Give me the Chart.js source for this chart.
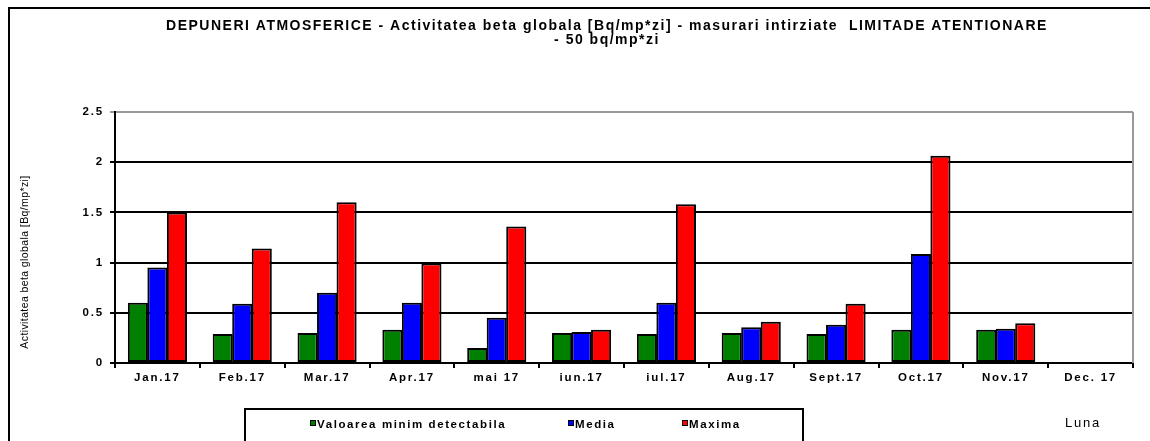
<!DOCTYPE html>
<html>
<head>
<meta charset="utf-8">
<script src="https://cdn.jsdelivr.net/npm/chart.js@4.4.0/dist/chart.umd.min.js"></script>
<style>
  html, body { margin: 0; padding: 0; background: #fff; }
  #wrap { width: 1150px; height: 441px; position: relative; }
</style>
</head>
<body>
<div id="wrap"><canvas id="c" width="1150" height="441"></canvas></div>
<script>
const titleLines = ["DEPUNERI ATMOSFERICE - Activitatea beta globala [Bq/mp*zi] - masurari intirziate  LIMITADE ATENTIONARE", "- 50 bq/mp*zi"];
const yAxisTitle = "Activitatea beta globala [Bq/mp*zi]";
const xAxisTitle = "Luna";
const categories = ["Jan.17", "Feb.17", "Mar.17", "Apr.17", "mai 17", "iun.17", "iul.17", "Aug.17", "Sept.17", "Oct.17", "Nov.17", "Dec. 17"];
const seriesNames = ["Valoarea minim detectabila", "Media", "Maxima"];
const minDetectabil = [0.60, 0.29, 0.30, 0.33, 0.15, 0.30, 0.29, 0.30, 0.29, 0.33, 0.33, null];
const media =         [0.95, 0.59, 0.70, 0.60, 0.45, 0.31, 0.60, 0.355, 0.38, 1.085, 0.34, null];
const maxima =        [1.50, 1.14, 1.60, 0.99, 1.36, 0.33, 1.58, 0.41, 0.59, 2.065, 0.395, null];
const yTicks = [0, 0.5, 1, 1.5, 2, 2.5];
const seriesColors = ["#008000", "#0000ff", "#ff0000"];

const FONT = "'Liberation Sans', Arial, sans-serif";

const spacing = {
  id: 'spacing',
  beforeDraw(chart) { chart.ctx.letterSpacing = '1.8px'; },
  afterDatasetsDraw(chart) { chart.ctx.letterSpacing = '0px'; }
};

const decor = {
  id: 'decor',
  afterDraw(chart) {
    const ctx = chart.ctx;
    const ca = chart.chartArea;
    ctx.save();
    ctx.letterSpacing = '0px';
    // outer frame (top + left)
    ctx.strokeStyle = '#000';
    ctx.lineWidth = 2;
    ctx.beginPath();
    ctx.moveTo(9, 441);
    ctx.lineTo(9, 8);
    ctx.lineTo(1150, 8);
    ctx.stroke();
    // right plot border gray
    ctx.strokeStyle = '#999';
    ctx.lineWidth = 2;
    ctx.beginPath();
    ctx.moveTo(ca.right, ca.top);
    ctx.lineTo(ca.right, ca.bottom);
    ctx.stroke();
    // title
    ctx.fillStyle = '#000';
    ctx.textAlign = 'center';
    ctx.textBaseline = 'middle';
    ctx.font = "bold 14px " + FONT;
    ctx.letterSpacing = '1.5px';
    ctx.fillText(titleLines[0], 607, 26);
    ctx.fillText(titleLines[1], 607, 40);
    // y title
    ctx.save();
    ctx.letterSpacing = '0.4px';
    ctx.translate(25, 262);
    ctx.rotate(-Math.PI / 2);
    ctx.font = "10.5px " + FONT;
    ctx.fillText(yAxisTitle, 0, 0);
    ctx.restore();
    // x title
    ctx.textAlign = 'left';
    ctx.font = "13px " + FONT;
    ctx.letterSpacing = '1.8px';
    ctx.fillText(xAxisTitle, 1065, 423);
    // legend box
    ctx.letterSpacing = '0px';
    ctx.strokeStyle = '#000';
    ctx.lineWidth = 2;
    ctx.beginPath();
    ctx.moveTo(245, 445);
    ctx.lineTo(245, 409);
    ctx.lineTo(803, 409);
    ctx.lineTo(803, 445);
    ctx.stroke();
    const itemX = [310, 568, 682];
    ctx.font = "bold 11.5px " + FONT;
    ctx.letterSpacing = '1.6px';
    chart.data.datasets.forEach((ds, i) => {
      const x = itemX[i];
      ctx.fillStyle = ds.backgroundColor;
      ctx.fillRect(x, 420, 6, 6);
      ctx.lineWidth = 1;
      ctx.strokeStyle = '#000';
      ctx.strokeRect(x + 0.5, 420.5, 5, 5);
      ctx.fillStyle = '#000';
      ctx.fillText(ds.label, x + 7, 425);
    });
    ctx.restore();
  }
};

new Chart(document.getElementById('c'), {
  type: 'bar',
  data: {
    labels: categories,
    datasets: [
      { label: seriesNames[0], data: minDetectabil, backgroundColor: seriesColors[0] },
      { label: seriesNames[1], data: media, backgroundColor: seriesColors[1] },
      { label: seriesNames[2], data: maxima, backgroundColor: seriesColors[2] }
    ].map(d => Object.assign(d, { borderColor: '#000', borderWidth: 2, borderSkipped: false, categoryPercentage: 0.69, barPercentage: 1.03 }))
  },
  options: {
    responsive: false,
    animation: false,
    devicePixelRatio: 1,
    layout: { padding: { left: 0, top: 112, right: 17, bottom: 48 } },
    plugins: { legend: { display: false }, title: { display: false }, tooltip: { enabled: false } },
    scales: {
      x: {
        afterFit(s) { s.height = 30; },
        grid: { offset: true, drawOnChartArea: false, drawTicks: true, tickLength: 5, color: '#000', lineWidth: 2 },
        border: { display: true, color: '#000', width: 2 },
        ticks: { color: '#000', font: { family: FONT, size: 11.5, weight: 'bold' }, padding: 3, maxRotation: 0, autoSkip: false }
      },
      y: {
        min: 0, max: 2.5,
        afterFit(s) { s.width = 115; },
        afterBuildTicks(s) { s.ticks = yTicks.map(v => ({ value: v })); },
        grid: { color: c => (c.tick && c.tick.value === 2.5) ? '#999' : '#000', lineWidth: 2, tickLength: 5 },
        border: { display: true, color: '#000', width: 2 },
        ticks: { color: '#000', font: { family: FONT, size: 11.5, weight: 'bold' }, padding: 6, callback: v => String(v) }
      }
    }
  },
  plugins: [spacing, decor]
});
</script>
</body>
</html>
